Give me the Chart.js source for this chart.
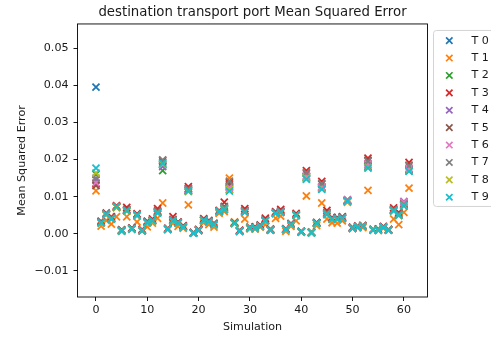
<!DOCTYPE html>
<html>
<head>
<meta charset="utf-8">
<script src="https://cdn.jsdelivr.net/npm/chart.js@4.4.0/dist/chart.umd.min.js"></script>
<style>
  html, body { margin: 0; padding: 0; background: #fff; }
  canvas { display: block; }
</style>
</head>
<body>
<canvas id="chart" width="491" height="338"></canvas>
<script>
// Simulation index on the x axis
const simulations = [0,1,2,3,4,5,6,7,8,9,10,11,12,13,14,15,16,17,18,19,20,21,22,23,24,25,26,27,28,29,
  30,31,32,33,34,35,36,37,38,39,40,41,42,43,44,45,46,47,48,49,50,51,52,53,54,55,56,57,58,59,60,61];

const seriesNames = ['T 0','T 1','T 2','T 3','T 4','T 5','T 6','T 7','T 8','T 9'];
const seriesColors = ['#1f77b4','#ff7f0e','#2ca02c','#d62728','#9467bd','#8c564b','#e377c2','#7f7f7f','#bcbd22','#17becf'];

// Mean squared error per simulation, one array per series
const t0 = [0.0395,0.0031,0.0052,0.0041,0.0072,0.0009,0.0063,0.0014,0.0050,0.0009,
  0.0031,0.0036,0.0058,0.0186,0.0013,0.0036,0.0030,0.0019,0.0117,0.0003,
  0.0010,0.0037,0.0033,0.0026,0.0060,0.0068,0.0120,0.0029,0.0008,0.0060,
  0.0016,0.0016,0.0021,0.0036,0.0011,0.0056,0.0059,0.0012,0.0026,0.0051,
  0.0006,0.0150,0.0004,0.0029,0.0123,0.0054,0.0041,0.0041,0.0043,0.0088,
  0.0016,0.0019,0.0021,0.0180,0.0011,0.0011,0.0018,0.0011,0.0063,0.0051,
  0.0078,0.0170];
const t1 = [0.0116,0.0021,0.0036,0.0026,0.0046,0.0007,0.0046,0.0012,0.0032,0.0010,
  0.0019,0.0029,0.0042,0.0083,0.0012,0.0028,0.0020,0.0015,0.0078,0.0003,
  0.0010,0.0030,0.0025,0.0018,0.0055,0.0060,0.0150,0.0032,0.0009,0.0040,
  0.0014,0.0013,0.0018,0.0025,0.0010,0.0042,0.0048,0.0007,0.0020,0.0035,
  0.0006,0.0102,0.0003,0.0022,0.0083,0.0040,0.0030,0.0029,0.0035,0.0085,
  0.0014,0.0016,0.0017,0.0117,0.0010,0.0009,0.0015,0.0010,0.0040,0.0025,
  0.0058,0.0123];
const t2 = [0.0160,0.0030,0.0051,0.0040,0.0071,0.0008,0.0062,0.0013,0.0049,0.0008,
  0.0030,0.0035,0.0057,0.0170,0.0012,0.0035,0.0029,0.0018,0.0116,0.0002,
  0.0009,0.0036,0.0032,0.0025,0.0059,0.0066,0.0126,0.0028,0.0007,0.0059,
  0.0015,0.0015,0.0020,0.0035,0.0010,0.0055,0.0058,0.0011,0.0025,0.0050,
  0.0005,0.0152,0.0003,0.0028,0.0124,0.0053,0.0040,0.0040,0.0042,0.0087,
  0.0015,0.0018,0.0020,0.0182,0.0010,0.0010,0.0017,0.0010,0.0062,0.0050,
  0.0077,0.0172];
const t3 = [0.0135,0.0034,0.0056,0.0046,0.0076,0.0011,0.0071,0.0016,0.0054,0.0012,
  0.0034,0.0040,0.0068,0.0197,0.0015,0.0046,0.0032,0.0022,0.0127,0.0004,
  0.0012,0.0041,0.0036,0.0029,0.0063,0.0085,0.0138,0.0030,0.0010,0.0068,
  0.0018,0.0019,0.0024,0.0042,0.0013,0.0060,0.0066,0.0014,0.0028,0.0055,
  0.0007,0.0170,0.0005,0.0031,0.0141,0.0063,0.0044,0.0044,0.0046,0.0090,
  0.0018,0.0021,0.0023,0.0204,0.0012,0.0013,0.0020,0.0012,0.0070,0.0058,
  0.0083,0.0192];
const t4 = [0.0145,0.0031,0.0053,0.0042,0.0073,0.0009,0.0064,0.0014,0.0051,0.0009,
  0.0031,0.0036,0.0060,0.0181,0.0013,0.0037,0.0030,0.0019,0.0118,0.0003,
  0.0010,0.0037,0.0033,0.0026,0.0060,0.0070,0.0128,0.0029,0.0008,0.0061,
  0.0016,0.0016,0.0021,0.0036,0.0011,0.0056,0.0060,0.0012,0.0026,0.0051,
  0.0006,0.0155,0.0004,0.0029,0.0127,0.0055,0.0041,0.0041,0.0043,0.0092,
  0.0016,0.0019,0.0021,0.0186,0.0011,0.0011,0.0018,0.0011,0.0064,0.0052,
  0.0087,0.0175];
const t5 = [0.0130,0.0032,0.0054,0.0043,0.0074,0.0010,0.0066,0.0015,0.0052,0.0010,
  0.0032,0.0037,0.0062,0.0193,0.0014,0.0039,0.0031,0.0020,0.0122,0.0003,
  0.0011,0.0038,0.0034,0.0027,0.0061,0.0074,0.0132,0.0029,0.0008,0.0063,
  0.0017,0.0017,0.0022,0.0038,0.0012,0.0057,0.0062,0.0013,0.0027,0.0052,
  0.0006,0.0162,0.0004,0.0030,0.0134,0.0058,0.0042,0.0042,0.0044,0.0089,
  0.0017,0.0020,0.0022,0.0198,0.0011,0.0012,0.0019,0.0011,0.0066,0.0054,
  0.0080,0.0185];
const t6 = [0.0138,0.0030,0.0052,0.0041,0.0072,0.0008,0.0063,0.0013,0.0050,0.0009,
  0.0030,0.0035,0.0058,0.0187,0.0012,0.0036,0.0029,0.0018,0.0119,0.0002,
  0.0009,0.0036,0.0032,0.0025,0.0060,0.0068,0.0125,0.0028,0.0007,0.0060,
  0.0015,0.0015,0.0020,0.0035,0.0010,0.0055,0.0059,0.0011,0.0025,0.0050,
  0.0005,0.0156,0.0003,0.0028,0.0126,0.0054,0.0040,0.0040,0.0042,0.0091,
  0.0015,0.0018,0.0020,0.0188,0.0010,0.0010,0.0017,0.0010,0.0063,0.0051,
  0.0085,0.0176];
const t7 = [0.0150,0.0031,0.0053,0.0042,0.0073,0.0009,0.0064,0.0014,0.0051,0.0009,
  0.0031,0.0036,0.0060,0.0199,0.0013,0.0037,0.0030,0.0019,0.0121,0.0003,
  0.0010,0.0037,0.0033,0.0026,0.0061,0.0071,0.0142,0.0029,0.0008,0.0062,
  0.0016,0.0016,0.0021,0.0036,0.0011,0.0056,0.0060,0.0012,0.0026,0.0051,
  0.0006,0.0165,0.0004,0.0029,0.0136,0.0056,0.0041,0.0041,0.0043,0.0089,
  0.0016,0.0019,0.0021,0.0195,0.0011,0.0011,0.0018,0.0011,0.0065,0.0053,
  0.0079,0.0183];
const t8 = [0.0164,0.0029,0.0051,0.0040,0.0071,0.0008,0.0061,0.0013,0.0049,0.0008,
  0.0029,0.0034,0.0056,0.0188,0.0012,0.0034,0.0028,0.0018,0.0114,0.0002,
  0.0009,0.0035,0.0031,0.0024,0.0059,0.0066,0.0119,0.0027,0.0007,0.0058,
  0.0015,0.0015,0.0020,0.0034,0.0010,0.0054,0.0057,0.0011,0.0024,0.0049,
  0.0005,0.0150,0.0003,0.0027,0.0121,0.0052,0.0039,0.0039,0.0041,0.0087,
  0.0015,0.0018,0.0020,0.0179,0.0010,0.0010,0.0017,0.0010,0.0061,0.0049,
  0.0076,0.0169];
const t9 = [0.0177,0.0030,0.0053,0.0040,0.0073,0.0008,0.0062,0.0013,0.0050,0.0008,
  0.0030,0.0035,0.0056,0.0190,0.0012,0.0035,0.0029,0.0018,0.0115,0.0002,
  0.0009,0.0036,0.0032,0.0025,0.0060,0.0065,0.0115,0.0028,0.0007,0.0058,
  0.0015,0.0015,0.0020,0.0035,0.0010,0.0055,0.0058,0.0012,0.0025,0.0050,
  0.0005,0.0147,0.0003,0.0028,0.0120,0.0052,0.0040,0.0040,0.0042,0.0088,
  0.0015,0.0018,0.0020,0.0177,0.0010,0.0010,0.0017,0.0010,0.0062,0.0050,
  0.0075,0.0168];

const seriesValues = [t0, t1, t2, t3, t4, t5, t6, t7, t8, t9];

// Axis ticks
const xTicks = [0, 10, 20, 30, 40, 50, 60];
const yTicks = [-0.01, 0.00, 0.01, 0.02, 0.03, 0.04, 0.05];
const yTickLabels = ['\u22120.01', '0.00', '0.01', '0.02', '0.03', '0.04', '0.05'];

const FAMILY = "'DejaVu Sans', 'Liberation Sans', sans-serif";
const TEXT = '#1a1a1a';

// Full rectangular frame around the plotting area
const framePlugin = {
  id: 'frame',
  afterDraw(chart) {
    const { ctx, chartArea: a } = chart;
    ctx.save();
    ctx.strokeStyle = '#000';
    ctx.lineWidth = 0.9;
    ctx.strokeRect(a.left, a.top, a.right - a.left, a.bottom - a.top);
    ctx.restore();
  }
};

// Boxed legend to the right of the plot
const legendPlugin = {
  id: 'sideLegend',
  afterDraw(chart) {
    const { ctx, chartArea: a } = chart;
    const boxX = a.right + 6, boxY = a.top + 6.5, boxW = 80, boxH = 176;
    ctx.save();
    ctx.beginPath();
    const r = 3;
    ctx.moveTo(boxX + r, boxY);
    ctx.lineTo(boxX + boxW - r, boxY);
    ctx.arcTo(boxX + boxW, boxY, boxX + boxW, boxY + r, r);
    ctx.lineTo(boxX + boxW, boxY + boxH - r);
    ctx.arcTo(boxX + boxW, boxY + boxH, boxX + boxW - r, boxY + boxH, r);
    ctx.lineTo(boxX + r, boxY + boxH);
    ctx.arcTo(boxX, boxY + boxH, boxX, boxY + boxH - r, r);
    ctx.lineTo(boxX, boxY + r);
    ctx.arcTo(boxX, boxY, boxX + r, boxY, r);
    ctx.closePath();
    ctx.fillStyle = 'rgba(255,255,255,0.8)';
    ctx.fill();
    ctx.strokeStyle = '#d4d4d4';
    ctx.lineWidth = 1;
    ctx.stroke();

    ctx.font = '11.1px ' + FAMILY;
    ctx.textBaseline = 'middle';
    ctx.textAlign = 'left';
    const d = 3.2;
    seriesNames.forEach((name, i) => {
      const cy = boxY + 10.2 + i * 17.4;
      const cx = boxX + 15.8;
      ctx.strokeStyle = seriesColors[i];
      ctx.lineWidth = 1.7;
      ctx.beginPath();
      ctx.moveTo(cx - d, cy - d); ctx.lineTo(cx + d, cy + d);
      ctx.moveTo(cx - d, cy + d); ctx.lineTo(cx + d, cy - d);
      ctx.stroke();
      ctx.fillStyle = TEXT;
      ctx.fillText(name, boxX + 38, cy);
    });
    ctx.restore();
  }
};

new Chart(document.getElementById('chart'), {
  type: 'scatter',
  data: {
    datasets: seriesValues.map((vals, i) => ({
      label: seriesNames[i],
      data: simulations.map((s, j) => ({ x: s, y: vals[j] })),
      pointStyle: 'crossRot',
      pointRadius: 5,
      pointHoverRadius: 5,
      pointBorderWidth: 1.8,
      borderColor: seriesColors[i],
      backgroundColor: seriesColors[i],
      order: seriesNames.length - 1 - i
    }))
  },
  options: {
    responsive: false,
    animation: false,
    devicePixelRatio: 1,
    events: [],
    layout: { padding: { left: 0, right: 63.5, top: 0, bottom: 0 } },
    plugins: {
      legend: { display: false },
      tooltip: { enabled: false },
      title: {
        display: true,
        fullSize: false,
        text: 'destination transport port Mean Squared Error',
        color: TEXT,
        font: { family: FAMILY, size: 13.3, weight: 'normal', lineHeight: 1.2 },
        padding: { top: 5, bottom: 3 }
      }
    },
    scales: {
      x: {
        type: 'linear',
        min: -3.6,
        max: 64.6,
        afterBuildTicks: (s) => { s.ticks = xTicks.map(v => ({ value: v })); },
        afterFit: (s) => { s.height = 41; },
        border: { display: false },
        grid: { drawOnChartArea: false, drawTicks: true, tickLength: 4, tickWidth: 0.9, tickColor: '#000' },
        ticks: {
          color: TEXT, padding: 2, maxRotation: 0, autoSkip: false,
          font: { family: FAMILY, size: 11.1 },
          callback: (v) => String(v)
        },
        title: {
          display: true, text: 'Simulation', color: TEXT,
          font: { family: FAMILY, size: 11.1, lineHeight: 1.2 },
          padding: { top: 0, bottom: 4 }
        }
      },
      y: {
        type: 'linear',
        min: -0.0170,
        max: 0.0565,
        afterBuildTicks: (s) => { s.ticks = yTicks.map(v => ({ value: v })); },
        afterFit: (s) => { s.width = 77.5; },
        border: { display: false },
        grid: { drawOnChartArea: false, drawTicks: true, tickLength: 4, tickWidth: 0.9, tickColor: '#000' },
        ticks: {
          color: TEXT, padding: 5, autoSkip: false,
          font: { family: FAMILY, size: 11.1 },
          callback: (v, idx) => yTickLabels[idx]
        },
        title: {
          display: true, text: 'Mean Squared Error', color: TEXT,
          font: { family: FAMILY, size: 11.1, lineHeight: 1.2 },
          padding: { top: 15, bottom: 0 }
        }
      }
    }
  },
  plugins: [framePlugin, legendPlugin]
});
</script>
</body>
</html>
